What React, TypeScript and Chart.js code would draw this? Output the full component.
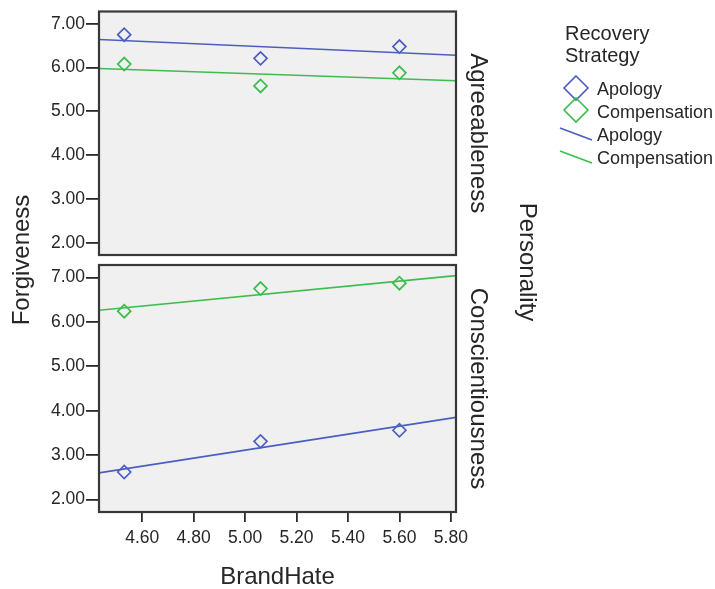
import React, { useEffect, useRef } from "react";
import { Chart, registerables } from "chart.js";

Chart.register(...registerables);

// ---- data ----
const brandHate = [4.53, 5.06, 5.6];
const strategies = ["Apology", "Compensation"];
const personalities = ["Agreeableness", "Conscientiousness"];
const agreeApology = [6.75, 6.21, 6.48];
const agreeCompensation = [6.08, 5.58, 5.88];
const conscApology = [2.62, 3.31, 3.56];
const conscCompensation = [6.24, 6.75, 6.87];
const fitRange = [4.432, 5.82];
const agreeApologyFit = [6.64, 6.28];
const agreeCompensationFit = [5.98, 5.7];
const conscApologyFit = [2.6, 3.85];
const conscCompensationFit = [6.26, 7.04];
const xTicks = [4.6, 4.8, 5.0, 5.2, 5.4, 5.6, 5.8];
const yTicks = [2, 3, 4, 5, 6, 7];
const xLabel = "BrandHate";
const yLabel = "Forgiveness";
const facetTitle = "Personality";
const legendTitle = ["Recovery", "Strategy"];

const X_MIN = 4.432;
const X_MAX = 5.82;
const Y_MIN = 1.72;
const Y_MAX = 7.28;

const BLUE = "#4b5ec0";
const GREEN = "#3dbd4e";
const TEXT = "#262626";
const TICK = "#2a2a2a";
const FONT = "'Liberation Sans', Arial, sans-serif";
const W = 715;
const H = 589;

const pts = (ys: number[]) => brandHate.map((x, i) => ({ x, y: ys[i] }));
const fit = (ys: number[]) => fitRange.map((x, i) => ({ x, y: ys[i] }));

function makeDatasets(ap: number[], comp: number[], apFit: number[], compFit: number[]) {
  const colors = [BLUE, GREEN];
  const markers = [ap, comp];
  const lines = [apFit, compFit];
  const ds: any[] = [];
  strategies.forEach((s, i) => {
    ds.push({
      label: s,
      data: fit(lines[i]),
      showLine: true,
      pointRadius: 0,
      borderColor: colors[i],
      borderWidth: 1.6,
      backgroundColor: colors[i],
    });
  });
  strategies.forEach((s, i) => {
    ds.push({
      label: s,
      data: pts(markers[i]),
      showLine: false,
      pointStyle: "rectRot",
      pointRadius: 6.5,
      pointBorderWidth: 1.7,
      borderColor: colors[i],
      backgroundColor: "rgba(0,0,0,0)",
    });
  });
  return ds;
}

const panelPlugin = {
  id: "panelBox",
  beforeDraw(chart: any) {
    const { ctx, chartArea: a } = chart;
    ctx.save();
    ctx.fillStyle = "#f0f0f0";
    ctx.fillRect(a.left, a.top, a.right - a.left, a.bottom - a.top);
    ctx.restore();
  },
  afterDraw(chart: any) {
    const { ctx, chartArea: a } = chart;
    ctx.save();
    ctx.strokeStyle = "#383838";
    ctx.lineWidth = 2.2;
    ctx.strokeRect(a.left, a.top, a.right - a.left, a.bottom - a.top);
    // facet label
    const label = chart.options.plugins.panelBox.facet;
    ctx.translate(a.right + 22, (a.top + a.bottom) / 2);
    ctx.rotate(Math.PI / 2);
    ctx.font = `24px ${FONT}`;
    ctx.fillStyle = TEXT;
    ctx.textAlign = "center";
    ctx.textBaseline = "middle";
    ctx.fillText(label, 0, 0);
    ctx.restore();
  },
};

function rotText(ctx: CanvasRenderingContext2D, text: string, x: number, y: number, angle: number, size: number) {
  ctx.save();
  ctx.translate(x, y);
  ctx.rotate(angle);
  ctx.font = `${size}px ${FONT}`;
  ctx.fillStyle = TEXT;
  ctx.textAlign = "center";
  ctx.textBaseline = "middle";
  ctx.fillText(text, 0, 0);
  ctx.restore();
}

const overlayPlugin = {
  id: "overlayText",
  afterDraw(chart: any) {
    const ctx: CanvasRenderingContext2D = chart.ctx;
    rotText(ctx, yLabel, 22, 260, -Math.PI / 2, 24);
    rotText(ctx, facetTitle, 527, 262, Math.PI / 2, 24);
    // legend
    ctx.save();
    ctx.fillStyle = TEXT;
    ctx.textAlign = "left";
    ctx.textBaseline = "alphabetic";
    ctx.font = `20px ${FONT}`;
    ctx.fillText(legendTitle[0], 565, 40);
    ctx.fillText(legendTitle[1], 565, 62);
    const colors = [BLUE, GREEN];
    ctx.font = `18px ${FONT}`;
    ctx.textBaseline = "middle";
    ctx.lineWidth = 1.6;
    strategies.forEach((s, i) => {
      const cy = 88 + i * 22;
      ctx.strokeStyle = colors[i];
      ctx.beginPath();
      ctx.moveTo(576, cy - 12);
      ctx.lineTo(588, cy);
      ctx.lineTo(576, cy + 12);
      ctx.lineTo(564, cy);
      ctx.closePath();
      ctx.stroke();
      ctx.fillText(s, 597, 90 + i * 23);
    });
    strategies.forEach((s, i) => {
      const cy = 134 + i * 23;
      ctx.strokeStyle = colors[i];
      ctx.beginPath();
      ctx.moveTo(560, cy - 6);
      ctx.lineTo(592, cy + 6);
      ctx.stroke();
      ctx.fillText(s, 597, 136 + i * 23);
    });
    ctx.restore();
  },
};

function makeConfig(
  datasets: any[],
  facet: string,
  showX: boolean,
  padding: { top: number; bottom: number },
  extraPlugins: any[]
): any {
  const tickFont = { family: FONT, size: 17.5 };
  return {
    type: "scatter",
    data: { datasets },
    plugins: [panelPlugin, ...extraPlugins],
    options: {
      animation: false,
      responsive: false,
      events: [],
      layout: { padding: { left: 0, right: W - 456, top: padding.top, bottom: padding.bottom } },
      plugins: {
        legend: { display: false },
        tooltip: { enabled: false },
        panelBox: { facet },
      },
      scales: {
        x: {
          type: "linear",
          min: X_MIN,
          max: X_MAX,
          display: showX,
          afterBuildTicks: (s: any) => {
            s.ticks = xTicks.map((v) => ({ value: v }));
          },
          afterFit: (s: any) => {
            if (showX) s.height = 77;
          },
          ticks: {
            callback: (v: any) => Number(v).toFixed(2),
            font: tickFont,
            color: TEXT,
            padding: 6,
            maxRotation: 0,
            autoSkip: false,
          },
          grid: { drawOnChartArea: false, drawTicks: true, tickLength: 10, color: TICK, lineWidth: 1.8 },
          border: { display: false },
          title: {
            display: showX,
            text: xLabel,
            font: { family: FONT, size: 24, lineHeight: 1.0 },
            color: TEXT,
            padding: { top: 0, bottom: 0 },
          },
        },
        y: {
          type: "linear",
          min: Y_MIN,
          max: Y_MAX,
          afterBuildTicks: (s: any) => {
            s.ticks = yTicks.map((v) => ({ value: v }));
          },
          afterFit: (s: any) => {
            s.width = 99;
          },
          ticks: {
            callback: (v: any) => Number(v).toFixed(2),
            font: tickFont,
            color: TEXT,
            padding: 1,
          },
          grid: { drawOnChartArea: false, drawTicks: true, tickLength: 13, color: TICK, lineWidth: 1.8 },
          border: { display: false },
        },
      },
    },
  };
}

export default function App() {
  const topRef = useRef<HTMLCanvasElement>(null);
  const botRef = useRef<HTMLCanvasElement>(null);

  useEffect(() => {
    document.body.style.margin = "0";
    const top = new Chart(
      topRef.current as HTMLCanvasElement,
      makeConfig(
        makeDatasets(agreeApology, agreeCompensation, agreeApologyFit, agreeCompensationFit),
        personalities[0],
        false,
        { top: 8, bottom: H - 255 },
        [overlayPlugin]
      )
    );
    const bot = new Chart(
      botRef.current as HTMLCanvasElement,
      makeConfig(
        makeDatasets(conscApology, conscCompensation, conscApologyFit, conscCompensationFit),
        personalities[1],
        true,
        { top: 265, bottom: 0 },
        []
      )
    );
    return () => {
      top.destroy();
      bot.destroy();
    };
  }, []);

  return (
    <div style={{ position: "relative", width: W, height: H, background: "#ffffff" }}>
      <canvas ref={topRef} width={W} height={H} style={{ position: "absolute", left: 0, top: 0 }} />
      <canvas ref={botRef} width={W} height={H} style={{ position: "absolute", left: 0, top: 0 }} />
    </div>
  );
}
